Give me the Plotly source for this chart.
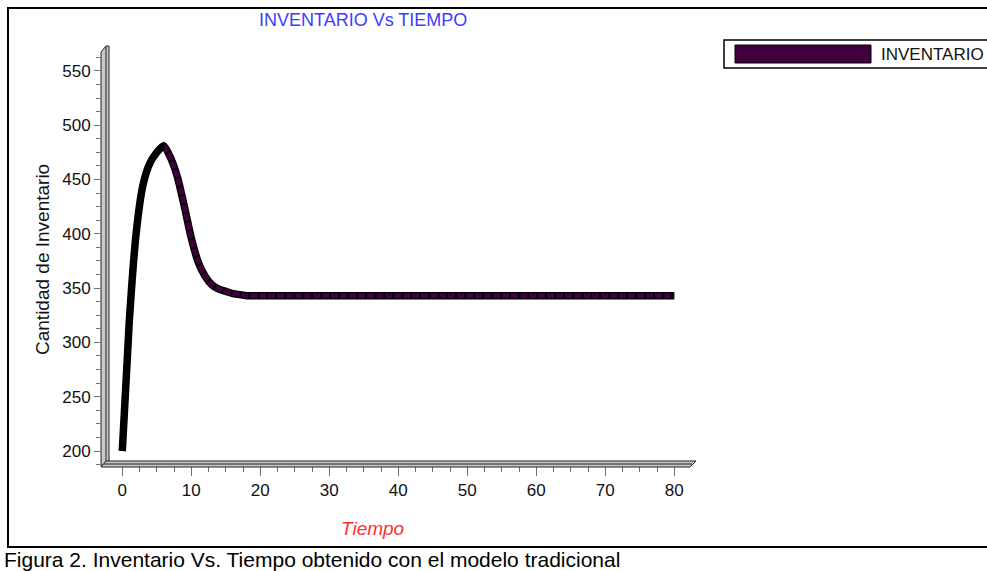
import plotly.graph_objects as go

# ---- data ----
tiempo = list(range(0, 81))
inventario = [200, 318, 400, 445, 465, 475, 481, 470, 452, 425,
              396, 374, 361, 353, 349, 347, 345, 344, 343, 343,
              343, 343, 343, 343, 343, 343, 343, 343, 343, 343,
              343, 343, 343, 343, 343, 343, 343, 343, 343, 343,
              343, 343, 343, 343, 343, 343, 343, 343, 343, 343,
              343, 343, 343, 343, 343, 343, 343, 343, 343, 343,
              343, 343, 343, 343, 343, 343, 343, 343, 343, 343,
              343, 343, 343, 343, 343, 343, 343, 343, 343, 343,
              343]
x_ticks = [0, 10, 20, 30, 40, 50, 60, 70, 80]
y_ticks = [200, 250, 300, 350, 400, 450, 500, 550]
peak_index = 6

titulo = "INVENTARIO Vs TIEMPO"
serie = "INVENTARIO"
x_titulo = "Tiempo"
y_titulo = "Cantidad de Inventario"
pie = "Figura 2. Inventario Vs. Tiempo obtenido con el modelo tradicional"

# ---- layout geometry (pixels) ----
W, H = 987, 571
L, R, T, B = 101, 292, 47, 105
PW, PH = W - L - R, H - T - B


def px(x):
    return (x - L) / PW


def py(y):
    return (H - B - y) / PH


FONT = "Liberation Sans, Arial, sans-serif"
PURPLE = "#400040"

fig = go.Figure()
# black outline of the ribbon
fig.add_trace(go.Scatter(x=tiempo, y=inventario, mode="lines",
                         line=dict(color="#000000", width=7.5, shape="spline", smoothing=0.6),
                         showlegend=False, hoverinfo="skip"))
# purple face of the ribbon
fig.add_trace(go.Scatter(x=tiempo[peak_index:], y=inventario[peak_index:], mode="lines",
                         name=serie,
                         line=dict(color=PURPLE, width=5, shape="spline", smoothing=0.6, dash="7px,2px"),
                         showlegend=False))
# rising part seen from the side (black)
fig.add_trace(go.Scatter(x=tiempo[:peak_index + 1], y=inventario[:peak_index + 1], mode="lines",
                         line=dict(color="#000000", width=6, shape="spline", smoothing=0.6),
                         showlegend=False, hoverinfo="skip"))

minor_x = [v + d for v in x_ticks[:-1] for d in (2.5, 5, 7.5)]

fig.update_xaxes(range=[(L - 122.3) / 6.9, (695 - 122.3) / 6.9],
                 tickmode="array", tickvals=x_ticks,
                 ticks="outside", ticklen=9, tickcolor="#707070", tickwidth=1,
                 minor=dict(tickmode="array", tickvals=minor_x, ticks="outside",
                            ticklen=5, tickcolor="#707070"),
                 showgrid=False, zeroline=False, showline=False,
                 tickfont=dict(family=FONT, size=17, color="#111111"))
fig.update_yaxes(range=[200 - (H - B - 451) / 1.086, 200 + (451 - T) / 1.086],
                 tickmode="array", tickvals=y_ticks,
                 ticks="outside", ticklen=6, tickcolor="#707070", tickwidth=1,
                 minor=dict(dtick=12.5, tick0=200, ticks="outside", ticklen=4,
                            tickcolor="#707070"),
                 showgrid=False, zeroline=False, showline=False,
                 tickfont=dict(family=FONT, size=17, color="#111111"))

shapes = []
# outer frame
shapes.append(dict(type="rect", xref="paper", yref="paper",
                   x0=px(8), x1=px(1000), y0=py(547), y1=py(8),
                   line=dict(color="#000000", width=2), fillcolor="rgba(0,0,0,0)", layer="below"))
# y axis bar (3D look)
shapes.append(dict(type="path", xref="paper", yref="paper",
                   path=f"M {px(101)},{py(466)} L {px(101)},{py(52)} L {px(106)},{py(46)} "
                        f"L {px(109)},{py(46)} L {px(109)},{py(461)} Z",
                   line=dict(color="#202020", width=1), fillcolor="#c8c8c8"))
shapes.append(dict(type="line", xref="paper", yref="paper",
                   x0=px(106), x1=px(106), y0=py(461), y1=py(47),
                   line=dict(color="#202020", width=1)))
# x axis bar (3D look)
shapes.append(dict(type="path", xref="paper", yref="paper",
                   path=f"M {px(101)},{py(467)} L {px(690)},{py(467)} L {px(696)},{py(461)} "
                        f"L {px(106)},{py(461)} Z",
                   line=dict(color="#202020", width=1), fillcolor="#c8c8c8"))
shapes.append(dict(type="line", xref="paper", yref="paper",
                   x0=px(104), x1=px(692), y0=py(464), y1=py(464),
                   line=dict(color="#202020", width=1)))
# legend box
shapes.append(dict(type="rect", xref="paper", yref="paper",
                   x0=px(724), x1=px(1000), y0=py(68), y1=py(40),
                   line=dict(color="#000000", width=1.5), fillcolor="#ffffff"))
shapes.append(dict(type="rect", xref="paper", yref="paper",
                   x0=px(735), x1=px(871), y0=py(63), y1=py(45),
                   line=dict(color="#000000", width=1), fillcolor=PURPLE))

annotations = [
    dict(text=titulo, xref="paper", yref="paper", x=px(363), y=py(20),
         xanchor="center", yanchor="middle", showarrow=False,
         font=dict(family=FONT, size=18, color="#3c3cff")),
    dict(text=serie, xref="paper", yref="paper", x=px(879), y=py(54),
         xanchor="left", yanchor="middle", showarrow=False,
         font=dict(family=FONT, size=17, color="#111111")),
    dict(text=y_titulo, xref="paper", yref="paper", x=px(42), y=py(260),
         xanchor="center", yanchor="middle", showarrow=False, textangle=-90,
         font=dict(family=FONT, size=19, color="#111111")),
    dict(text="<i>" + x_titulo + "</i>", xref="paper", yref="paper", x=px(372), y=py(528),
         xanchor="center", yanchor="middle", showarrow=False,
         font=dict(family=FONT, size=19, color="#ff3030")),
    dict(text=pie, xref="paper", yref="paper", x=px(2), y=py(559),
         xanchor="left", yanchor="middle", showarrow=False,
         font=dict(family=FONT, size=21, color="#000000")),
]

fig.update_layout(width=W, height=H,
                  margin=dict(l=L, r=R, t=T, b=B, pad=0),
                  paper_bgcolor="#ffffff", plot_bgcolor="#ffffff",
                  shapes=shapes, annotations=annotations, showlegend=False)

fig.write_html("out.html", config={"displayModeBar": False},
               post_script="document.body.style.margin='0';")
